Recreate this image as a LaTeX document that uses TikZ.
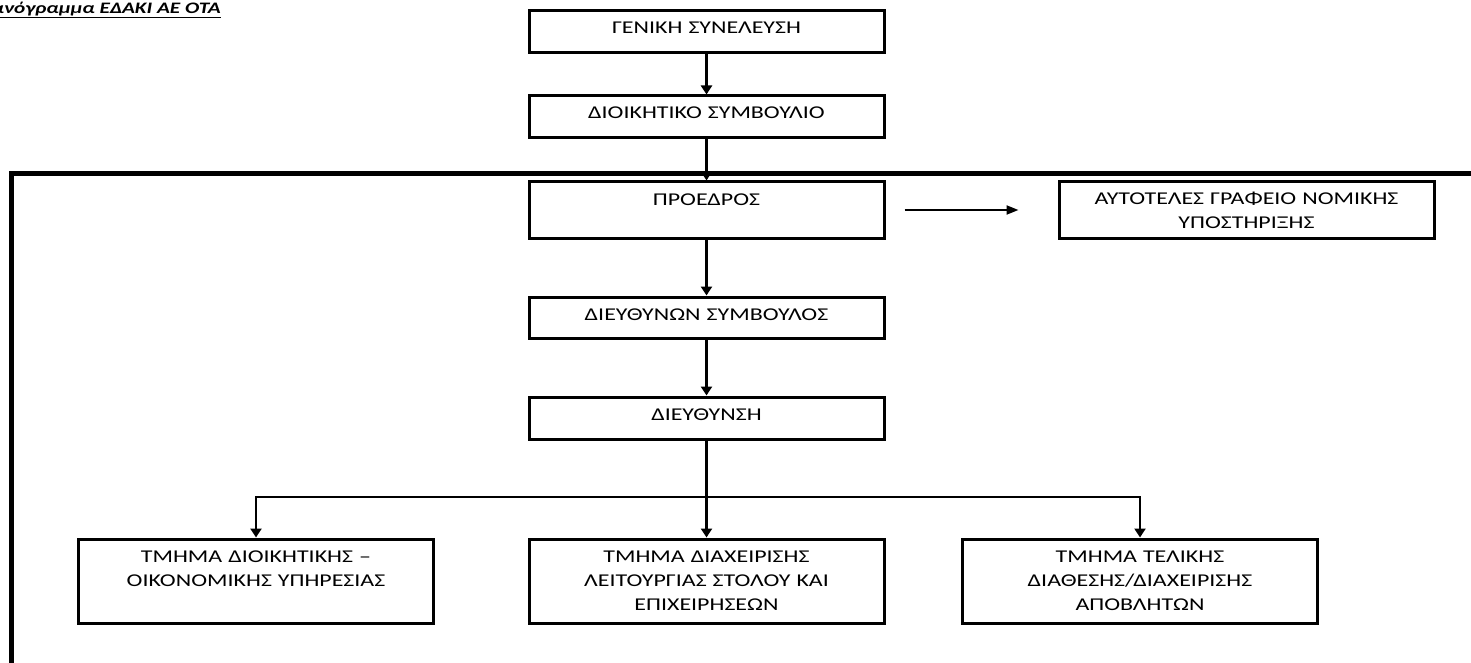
\documentclass[tikz,border=0pt]{standalone}
\usepackage{fontspec}
\setmainfont[FakeStretch=1.33]{Carlito}
\usetikzlibrary{positioning,arrows.meta}

\begin{document}
\begin{tikzpicture}[x=1pt,y=-1pt,on grid,
	>={Triangle[length=9pt,width=11pt]},
	unit/.style={draw,line width=3pt,inner xsep=4pt,inner ysep=0pt,minimum width=355pt,
		text width=345pt,align=center,text height=23pt,
		font=\fontsize{18}{24}\selectfont},
	link/.style={line width=2.5pt},
	frame/.style={line width=5pt}]
	\useasboundingbox (0,0) rectangle (1471,663);
	% title, its start runs off the page as in the scan
	\node[anchor=base east,inner sep=0pt,font=\fontsize{16}{18}\selectfont\bfseries\itshape]
		(ttl) at (221,13.5) {\underline{Οργανόγραμμα ΕΔΑΚΙ ΑΕ ΟΤΑ}};
	\draw[frame] (1480,173.5) -- (11.5,173.5) -- (11.5,670);

	\node[unit,text depth=19pt](gs) at (706.5,32) {ΓΕΝΙΚΗ ΣΥΝΕΛΕΥΣΗ};
	\node[unit,text depth=19pt](ds)[below=85pt of gs] {ΔΙΟΙΚΗΤΙΚΟ ΣΥΜΒΟΥΛΙΟ};
	\node[unit,text depth=33pt](pres)[below=93pt of ds] {ΠΡΟΕΔΡΟΣ};
	\node[unit,text depth=34pt,minimum width=375pt,text width=365pt](legal)[right=540pt of pres]
		{ΑΥΤΟΤΕΛΕΣ ΓΡΑΦΕΙΟ ΝΟΜΙΚΗΣ\\ ΥΠΟΣΤΗΡΙΞΗΣ};
	\node[unit,text depth=18pt](ceo)[below=107.5pt of pres] {ΔΙΕΥΘΥΝΩΝ ΣΥΜΒΟΥΛΟΣ};
	\node[unit,text depth=19pt](dir)[below=100.5pt of ceo] {ΔΙΕΥΘΥΝΣΗ};
	\node[unit,text depth=61pt](mid)[below=163pt of dir]
		{ΤΜΗΜΑ ΔΙΑΧΕΙΡΙΣΗΣ\\ ΛΕΙΤΟΥΡΓΙΑΣ ΣΤΟΛΟΥ ΚΑΙ\\ ΕΠΙΧΕΙΡΗΣΕΩΝ};
	\node[unit,text depth=61pt](adm)[left=450.5pt of mid]
		{ΤΜΗΜΑ ΔΙΟΙΚΗΤΙΚΗΣ –\\ ΟΙΚΟΝΟΜΙΚΗΣ ΥΠΗΡΕΣΙΑΣ};
	\node[unit,text depth=61pt](wst)[right=433.5pt of mid]
		{ΤΜΗΜΑ ΤΕΛΙΚΗΣ\\ ΔΙΑΘΕΣΗΣ/ΔΙΑΧΕΙΡΙΣΗΣ\\ ΑΠΟΒΛΗΤΩΝ};
	\coordinate (fork) at (706.5,497);

	\path[->,link]
	(gs) edge (ds)
	(ds) edge (pres)
	(pres) edge (ceo)
	(ceo) edge (dir)
	(dir) edge (mid);
	\draw[->,link] (fork) -| (adm.north);
	\draw[->,link] (fork) -| (wst.north);
	\draw[-{Triangle[length=12pt,width=9pt]},line width=2pt,shorten <=19pt,shorten >=39pt]
		(pres) -- (legal);
\end{tikzpicture}
\end{document}
